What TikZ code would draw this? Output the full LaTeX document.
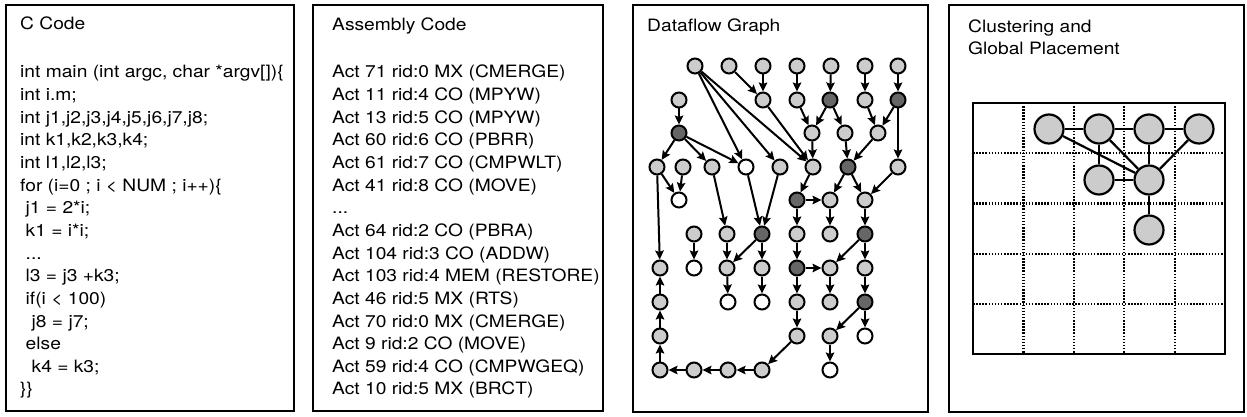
\documentclass[tikz,border=0pt]{standalone}
\usepackage{fontspec}
\setmainfont{TeX Gyre Heros}[FakeStretch=1.13]
\usetikzlibrary{arrows.meta}
\definecolor{lg}{HTML}{CCCCCC}
\definecolor{dg}{HTML}{666666}
\newcommand\mytdots{...}
\tikzset{
  panel/.style={draw, line width=2.4pt},
  txt/.style={anchor=base west, inner sep=0pt, font=\fontsize{17}{20}\selectfont},
  dfn/.style={circle, draw, line width=2pt, minimum size=15pt, inner sep=0pt},
  nl/.style={dfn, fill=lg},
  nd/.style={dfn, fill=dg},
  nw/.style={dfn, fill=white},
  arr/.style={-{Stealth[length=9pt,width=8.5pt,inset=1.5pt]}, line width=2pt},
  big/.style={circle, draw, line width=2.2pt, fill=lg, minimum size=29pt, inner sep=0pt},
  gridl/.style={line width=2.2pt, dash pattern=on 1.5pt off 1.6pt},
  link/.style={line width=2.2pt}
}
\begin{document}
\begin{tikzpicture}[x=1pt,y=-1pt]
\useasboundingbox (0,0) rectangle (1247,417);
% panels
\draw[panel] (6,5) rectangle (294,411);
\draw[panel] (313,5) rectangle (603,411);
\draw[panel] (633,5) rectangle (928,412);
\draw[panel] (949,5) rectangle (1244,412);
% titles
\node[txt] (t1) at (20,30) {C Code};
\node[txt] (t2) at (332,31) {Assembly Code};
\node[txt] (t3) at (647,31.5) {Dataflow Graph};
\node[txt] (t4a) at (968,33) {Clustering and};
\node[txt] (t4b) at (968,55) {Global Placement};
% C code
\foreach [count=\k] \t in {
  {int main (int argc, char *argv[])\{},
  {int i.m;},
  {int j1,j2,j3,j4,j5,j6,j7,j8;},
  {int k1,k2,k3,k4;},
  {int l1,l2,l3;},
  {for (i=0 ; i < NUM ; i++)\{},
  {\hspace*{5.5pt}j1 = 2*i;},
  {\hspace*{5.5pt}k1 = i*i;},
  {\hspace*{5.5pt}\mytdots},
  {\hspace*{5.5pt}l3 = j3 +k3;},
  {\hspace*{5.5pt}if(i < 100)},
  {\hspace*{11.5pt}j8 = j7;},
  {\hspace*{5.5pt}else},
  {\hspace*{11.5pt}k4 = k3;},
  {\}\}}}
  \node[txt] (c\k) at (20,{78+22.64*(\k-1)}) {\t};
% assembly
\foreach [count=\k] \t in {
  {Act 71 rid:0 MX (CMERGE)},
  {Act 11 rid:4 CO (MPYW)},
  {Act 13 rid:5 CO (MPYW)},
  {Act 60 rid:6 CO (PBRR)},
  {Act 61 rid:7 CO (CMPWLT)},
  {Act 41 rid:8 CO (MOVE)},
  {\mytdots},
  {Act 64 rid:2 CO (PBRA)},
  {Act 104 rid:3 CO (ADDW)},
  {Act 103 rid:4 MEM (RESTORE)},
  {Act 46 rid:5 MX (RTS)},
  {Act 70 rid:0 MX (CMERGE)},
  {Act 9 rid:2 CO (MOVE)},
  {Act 59 rid:4 CO (CMPWGEQ)},
  {Act 10 rid:5 MX (BRCT)}}
  \node[txt] (s\k) at (332,{78+22.64*(\k-1)}) {\t};
% dataflow graph nodes
\foreach \n/\x/\y/\s in {
  a1/695/66/nl, a2/729/66/nl, a3/763/66/nl, a4/797/66/nl, a5/831/66/nl, a6/865/66/nl, a7/898/66/nl,
  b1/679/100/nl, b3/763/100/nl, b4/797/100/nl, b5/830/100/nd, b6/865/100/nl, b7/898/100/nd,
  c1/679/133/nd, c5/812/133/nl, c6/845/133/nl, c7/878/133/nl,
  d1/657/167/nl, d2/683/167/nl, d3/712/167/nl, d4/746/167/nw, d5/780/167/nl, d6/813/167/nl, d7/848/167/nd, d8/898/167/nl,
  e1/679/200/nw, e5/797/200/nd, e6/830/200/nl, e7/865/200/nl,
  f2/694/234/nl, f3/727/234/nl, f4/762/234/nd, f5/797/234/nl, f6/830/234/nl, f7/865/234/nd,
  g1/660/268/nl, g2/694/268/nw, g3/727/268/nl, g4/762/268/nl, g5/797/268/nd, g6/830/268/nl, g7/865/268/nl,
  h1/660/302/nl, h3/728/302/nw, h4/762/302/nw, h5/797/302/nl, h6/830/302/nl, h7/865/302/nd,
  i1/660/336/nl, i5/797/336/nl, i6/830/336/nl, i7/865/336/nw,
  j1/660/370/nl, j2/694/370/nl, j3/728/370/nl, j4/762/370/nl, j6/830/370/nw}
  \node[\s] (\n) at (\x,\y) {};
% dataflow graph edges
\foreach \u/\v in {
  a1/d4, a1/d5, a1/d6, a2/b3, a3/b3, a4/b4, a5/b5, a6/b6, a7/b7,
  b1/c1, b3/d6, b4/c5, b5/c5, b5/c6, b6/c7, b7/c7, b7/d8,
  c1/d1, c1/d3, c1/d4, c5/d6, c6/d7, c7/d7,
  d1/e1, d2/e1, d1/g1, d3/f3, d4/f4, d5/f4, d6/e5, d7/e6, d7/e7, d8/e7,
  e5/e6, e5/f5, e6/f6, e7/f7,
  f2/g2, f3/g3, f4/g3, f4/g4, f5/g5, f7/g6, f7/g7,
  g3/h3, g4/h4, g5/h5, g5/g6, g6/h6, g7/h7,
  h5/i5, h7/i6, h7/i7,
  i5/j4, i6/j6,
  j4/j3, j3/j2, j2/j1, j1/i1, i1/h1, h1/g1}
  \draw[arr] (\u) -- (\v);
% placement grid
\draw[line width=2.2pt] (973,103) rectangle (1225,354);
\foreach \xx in {1023.4,1073.8,1124.2,1174.6}
  \draw[gridl] (\xx,103) -- (\xx,354);
\foreach \yy in {153.2,203.4,253.6,303.8}
  \draw[gridl] (973,\yy) -- (1225,\yy);
% clustered nodes
\node[big] (p1) at (1049,129) {};
\node[big] (p2) at (1099,129) {};
\node[big] (p3) at (1149,129) {};
\node[big] (p4) at (1199,129) {};
\node[big] (p5) at (1099,180) {};
\node[big] (p6) at (1149,180) {};
\node[big] (p7) at (1149,230) {};
\foreach \u/\v in {p1/p2, p2/p3, p3/p4, p1/p6, p2/p5, p2/p6, p3/p6, p4/p6, p5/p6, p6/p7}
  \draw[link] (\u) -- (\v);
\end{tikzpicture}
\end{document}
